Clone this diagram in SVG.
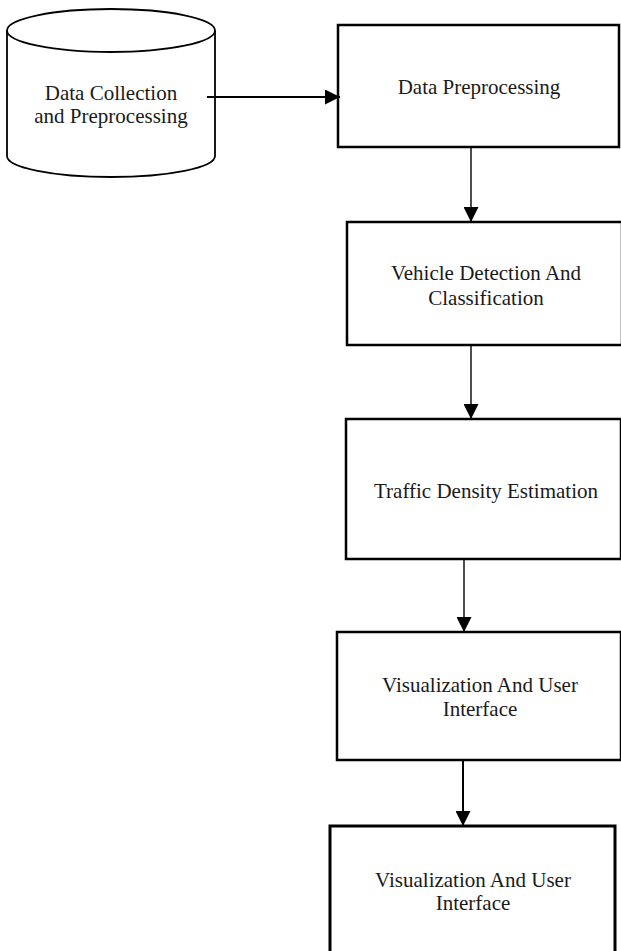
<svg xmlns="http://www.w3.org/2000/svg" width="621" height="951" viewBox="0 0 621 951">
  <style>
    .box { fill: #ffffff; stroke: #000000; stroke-width: 2.5; }
    .cyl { fill: #ffffff; stroke: #000000; stroke-width: 1.8; }
    .label { font-family: "Liberation Serif", "Times New Roman", serif; font-size: 21px; fill: #1a1a1a; text-anchor: middle; }
    .link { fill: none; stroke: #000000; stroke-width: 1.4; }
    .link.bold { stroke-width: 2; }
  </style>
  <defs>
    <marker id="arrowhead" markerUnits="userSpaceOnUse" markerWidth="15" markerHeight="15" refX="15" refY="7.5" orient="auto">
      <path d="M0,0 L15,7.5 L0,15 z" fill="#000000"/>
    </marker>
  </defs>

  <rect width="621" height="951" fill="#ffffff"/>

  <!-- data source cylinder -->
  <g id="data-collection">
    <path class="cyl" d="M7,30.5 L7,156 A104,21 0 0 0 215,156 L215,30.5"/>
    <ellipse class="cyl" cx="111" cy="30.5" rx="104" ry="21.5"/>
    <text class="label" x="111" y="100">Data Collection</text>
    <text class="label" x="111" y="123">and Preprocessing</text>
  </g>

  <g id="data-preprocessing">
    <rect class="box" x="338" y="25" width="281" height="122"/>
    <text class="label" x="479" y="94">Data Preprocessing</text>
  </g>

  <g id="vehicle-detection">
    <rect class="box" x="347" y="222" width="275" height="123"/>
    <text class="label" x="486" y="280">Vehicle Detection And</text>
    <text class="label" x="486" y="305">Classification</text>
  </g>

  <g id="traffic-density">
    <rect class="box" x="346" y="419" width="275" height="140"/>
    <text class="label" x="486" y="498">Traffic Density Estimation</text>
  </g>

  <g id="visualization-1">
    <rect class="box" x="337" y="632" width="284" height="128"/>
    <text class="label" x="480" y="692">Visualization And User</text>
    <text class="label" x="480" y="716">Interface</text>
  </g>

  <g id="visualization-2">
    <rect class="box" x="330" y="826" width="285" height="130" style="stroke-width:3"/>
    <text class="label" x="473" y="887">Visualization And User</text>
    <text class="label" x="473" y="910">Interface</text>
  </g>

  <!-- connectors -->
  <g id="connectors">
    <line class="link bold" x1="207" y1="97" x2="340" y2="97" marker-end="url(#arrowhead)"/>
    <line class="link" x1="471" y1="147" x2="471" y2="222" marker-end="url(#arrowhead)"/>
    <line class="link" x1="471" y1="345" x2="471" y2="419" marker-end="url(#arrowhead)"/>
    <line class="link" x1="464" y1="559" x2="464" y2="632" marker-end="url(#arrowhead)"/>
    <line class="link bold" x1="463" y1="760" x2="463" y2="826" marker-end="url(#arrowhead)"/>
  </g>
</svg>
